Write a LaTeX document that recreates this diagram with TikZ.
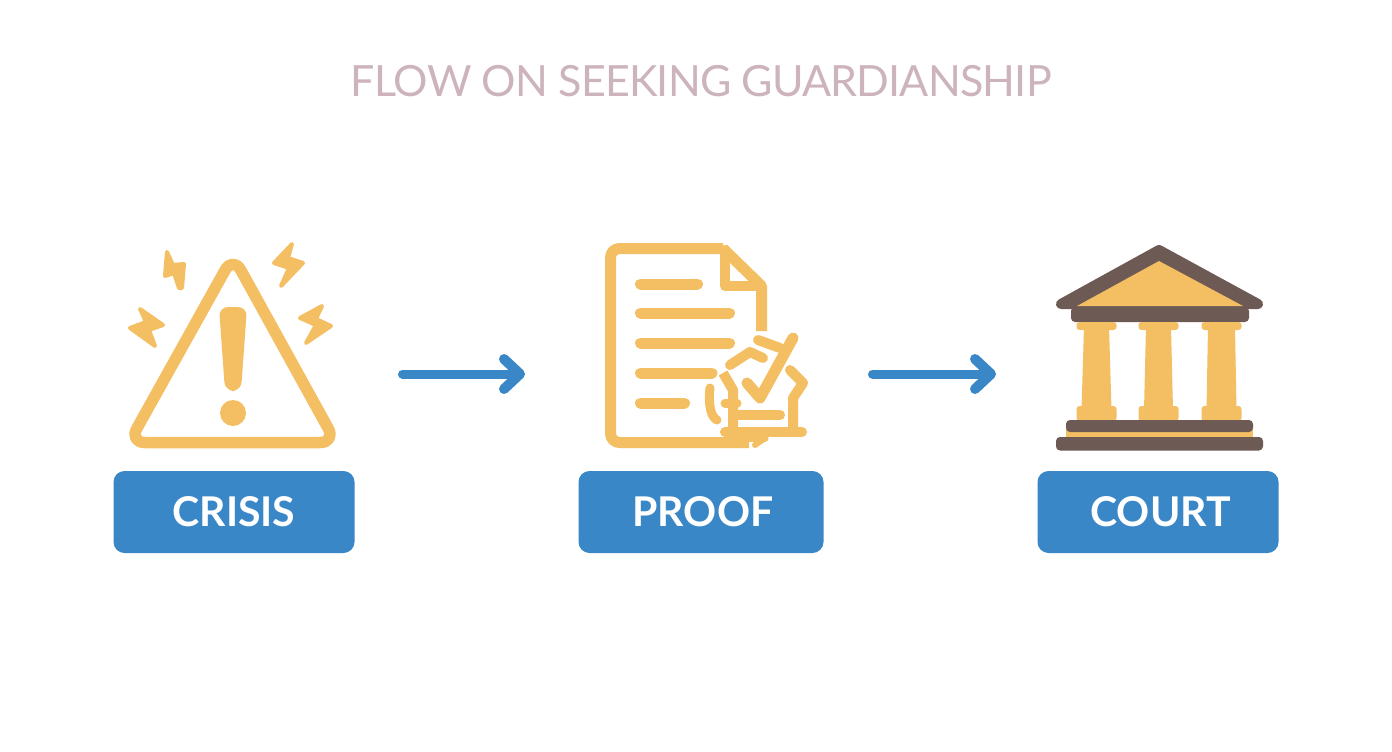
\documentclass[tikz,border=0pt]{standalone}
\usepackage{fontspec}
\usetikzlibrary{calc}
\setmainfont{Lato}
\definecolor{gold}{HTML}{F3BF62}
\definecolor{brownc}{HTML}{6E5A55}
\definecolor{bluec}{HTML}{3A87C8}
\definecolor{titlec}{HTML}{CDB4BC}
\tikzset{
  ttl/.style={text=titlec,font=\fontsize{43}{43}\selectfont\addfontfeature{LetterSpace=-1.9},inner sep=0pt,anchor=center},
  lbl/.style={fill=bluec,rounded corners=11pt,text=white,font=\fontsize{41}{41}\selectfont\bfseries,inner sep=0pt,minimum height=82pt,anchor=center},
  goldline/.style={draw=gold,line width=11pt,line cap=round,line join=round},
  bolt/.style={fill=gold,draw=gold,line width=4pt,line join=round},
  brownbar/.style={fill=brownc,rounded corners=4pt},
  col/.style={fill=gold,rounded corners=3pt},
  flow/.style={draw=bluec,line width=9pt,line cap=round,line join=round},
  flowhead/.style={draw=bluec,line width=10pt,line cap=round,line join=round}
}
\begin{document}
\begin{tikzpicture}[x=1pt,y=-1pt]
\useasboundingbox (0,0) rectangle (1392,752);
\fill[white] (0,0) rectangle (1392,752);
\node[ttl] (title) at (701,81) {FLOW ON SEEKING GUARDIANSHIP};
% warning icon
\draw[goldline,line width=11.5pt,rounded corners=16pt] (233,256) -- (336,442.5) -- (129,442.5) -- cycle;
\fill[gold,rounded corners=9pt] (219,307) -- (247,307) -- (241,391) -- (225,391) -- cycle;
\fill[gold] (233,413) circle (13pt);
\draw[bolt] (167,252) -- (173,265) -- (184,264) -- (182,288) -- (179,288) -- (174,273) -- (165,276) -- cycle;
\draw[bolt] (292,244) -- (274,263) -- (289,268) -- (281,286) -- (303,263) -- (288,258) -- cycle;
\draw[bolt] (140,309) -- (163,325) -- (149,330) -- (155,346) -- (130,328) -- (146,322) -- cycle;
\draw[bolt] (322,306) -- (300,318) -- (316,325) -- (306,343) -- (331,326) -- (316,319) -- cycle;
% document icon
\draw[goldline,rounded corners=9pt,line cap=butt] (749,442.5) -- (610.5,442.5) -- (610.5,248.5) -- (723,248.5);
\draw[goldline,line cap=butt] (723,248.5) -- (761.5,286) -- (761.5,331);
\draw[goldline,line width=10pt] (725,250) -- (725,286) -- (760,286);
\foreach \yy/\xe in {284/697.5,313/729.5,343/729.5,373/712,403/684.5}
  \draw[goldline] (640.5,\yy) -- (\xe,\yy);
% stamp
\draw[goldline,line width=10pt] (758,340) -- (780,348);
\draw[goldline,line width=10pt] (730,365) -- (750,352) -- (763,358);
\draw[goldline,line width=11pt] (747,383) -- (760,398) -- (793,338);
\draw[goldline,line width=10pt] (790,370) -- (803,383) -- (793,398) -- (793,427);
\draw[goldline,line width=10pt,line cap=butt] (723,373) -- (733,390) -- (733,430);
\draw[goldline,line width=9pt] (710,388) .. controls (708,405) and (711,417) .. (717,420);
\draw[goldline,line width=9pt] (725,403) -- (737,403);
\draw[goldline,line width=10pt] (737,415) -- (780,415);
\draw[goldline,line width=10pt] (725,432) -- (802,432);
\draw[goldline,line width=7pt] (738,438) -- (765,438);
\draw[goldline,line width=6pt] (765,438) -- (755,445);
% court icon
\draw[draw=brownc,fill=brownc,line width=10pt,line join=round] (1061,304) -- (1159,250) -- (1258,304) -- cycle;
\fill[gold] (1159,261) -- (1243,306) -- (1077,306) -- cycle;
\fill[brownbar] (1071,307) rectangle (1249,322);
\foreach \cx/\ww/\wb in {1096.5/12.5/15,1158.5/12.5/14.5,1221.5/13.5/15}{
  \fill[col] (\cx-20,322) rectangle (\cx+20,330);
  \fill[gold] (\cx-\ww,326) -- (\cx+\ww,326) -- (\cx+\wb,410) -- (\cx-\wb,410) -- cycle;
  \fill[col] (\cx-20,406) rectangle (\cx+20,421);
}
\fill[gold] (1066,428) rectangle (1253,440);
\fill[brownbar] (1066,420) rectangle (1253,432);
\fill[brownbar] (1056,437) rectangle (1263,450.5);
% labels
\node[lbl,minimum width=241pt] (crisis) at (234,512) {CRISIS};
\node[lbl,minimum width=245pt] (proof) at (701,512) {\hspace*{4pt}PROOF};
\node[lbl,minimum width=241pt] (court) at (1158,512) {\hspace*{5pt}COURT};
% arrows
\coordinate (a1) at (402.5,374);
\coordinate (a2) at (520,374);
\coordinate (b1) at (872.5,374);
\coordinate (b2) at (991,374);
\draw[flow] (a1) -- (a2);
\draw[flowhead] ($(a2)+(-16,-15)$) -- (a2) -- ($(a2)+(-16,15)$);
\draw[flow] (b1) -- (b2);
\draw[flowhead] ($(b2)+(-16,-15)$) -- (b2) -- ($(b2)+(-16,15)$);
\end{tikzpicture}
\end{document}
